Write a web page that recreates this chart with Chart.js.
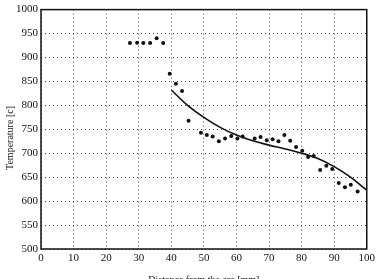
<!DOCTYPE html>
<html>
<head>
<meta charset="utf-8">
<script src="https://cdn.jsdelivr.net/npm/chart.js@4/dist/chart.umd.min.js"></script>
<style>
  html, body { margin: 0; padding: 0; background: #fff; }
  #wrap { width: 378px; height: 279px; }
</style>
</head>
<body>
<div id="wrap"><canvas id="c" width="378" height="279"></canvas></div>
<script>
const measX = [27.3, 29.5, 31.4, 33.5, 35.5, 37.5, 39.5, 41.4, 43.3, 45.3, 49.1, 50.9, 52.7, 54.6, 56.5, 58.4, 60.3, 61.9,
  65.6, 67.4, 69.3, 71.1, 72.9, 74.7, 76.5, 78.3, 80.2, 82.0, 83.7, 85.7, 87.6, 89.4, 91.4, 93.3, 95.1, 97.2];
const measY = [930, 931, 930, 930, 940, 930, 866, 845, 830, 768, 743, 738, 735, 725, 731, 736, 731, 735,
  731, 734, 727, 729, 725, 738, 726, 713, 705, 692, 694, 665, 674, 667, 638, 629, 634, 620];

// fitted curve
const fitX = [40, 45, 50, 55, 60, 65, 70, 75, 80, 85, 90, 95, 100];
const fitY = [832, 800, 775, 754, 738, 726, 717, 709, 700, 689, 672, 650, 623];

const xTicks = [0, 10, 20, 30, 40, 50, 60, 70, 80, 90, 100];
const yTicks = [500, 550, 600, 650, 700, 750, 800, 850, 900, 950, 1000];

const xTitle = "Distance from the arc [mm]";
const yTitle = "Temperature [c]";

const FONT = "'Liberation Serif', 'DejaVu Serif', serif";

// axis titles + frame drawn by hand
const extras = {
  id: "extras",
  afterDraw(chart) {
    const ctx = chart.ctx, a = chart.chartArea;
    ctx.save();
    ctx.strokeStyle = "#111";
    ctx.lineWidth = 1.5;
    ctx.strokeRect(a.left, a.top, a.right - a.left, a.bottom - a.top);
    ctx.fillStyle = "#111";
    ctx.font = "10px " + FONT;
    ctx.textAlign = "center";
    ctx.textBaseline = "alphabetic";
    ctx.fillText(xTitle, (a.left + a.right) / 2, 283);
    ctx.translate(10, 138);
    ctx.rotate(-Math.PI / 2);
    ctx.textBaseline = "middle";
    ctx.fillText(yTitle, 0, 0);
    ctx.restore();
  }
};

const gridStyle = { color: "#444", lineWidth: 1, drawTicks: false };

new Chart(document.getElementById("c"), {
  type: "scatter",
  data: {
    datasets: [
      {
        data: fitX.map((x, i) => ({ x, y: fitY[i] })),
        showLine: true,
        borderColor: "#111",
        borderWidth: 1.6,
        pointRadius: 0,
        tension: 0.4
      },
      {
        data: measX.map((x, i) => ({ x, y: measY[i] })),
        backgroundColor: "#111",
        borderColor: "#111",
        pointRadius: 2,
        borderWidth: 0
      }
    ]
  },
  options: {
    responsive: false,
    animation: false,
    layout: { padding: { top: 7, right: 8, left: 0, bottom: 0 } },
    plugins: { legend: { display: false }, tooltip: { enabled: false } },
    scales: {
      x: {
        type: "linear", min: 0, max: 100,
        afterBuildTicks: s => { s.ticks = xTicks.map(v => ({ value: v })); },
        afterFit: s => { s.height = 30; },
        grid: gridStyle,
        border: { display: false, dash: [1, 3] },
        ticks: { color: "#111", padding: 3, font: { family: FONT, size: 11 }, maxRotation: 0, callback: v => String(v) }
      },
      y: {
        type: "linear", min: 500, max: 1000,
        afterBuildTicks: s => { s.ticks = yTicks.map(v => ({ value: v })); },
        afterFit: s => { s.width = 41; },
        grid: gridStyle,
        border: { display: false, dash: [1, 3] },
        ticks: { color: "#111", padding: 3, font: { family: FONT, size: 11 }, callback: v => String(v) }
      }
    }
  },
  plugins: [extras]
});
</script>
</body>
</html>
